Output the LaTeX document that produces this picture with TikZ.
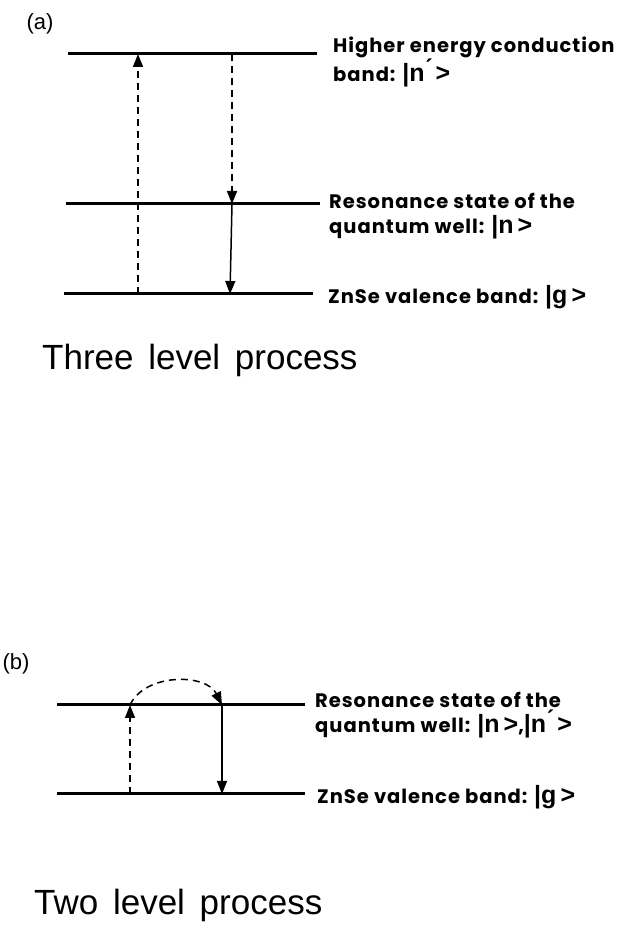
\documentclass[tikz,border=0pt]{standalone}
\usepackage{fontspec}
\usepackage{tikz}
\usepackage{tkz-euclide}
\usetikzlibrary{arrows.meta}
\setmainfont{Liberation Sans}
\newfontfamily\lblfont[LetterSpace=5]{Poppins}
\newfontfamily\ketfont{Liberation Sans}
\newcommand{\ket}[1]{{\ketfont\fontsize{25}{25}\selectfont|#1\,>}}
\newcommand{\capfont}{\fontsize{35}{35}\selectfont\spaceskip=0.42em plus 0.1em\relax}

\tikzset{
  level/.style={line width=3pt},
  jump/.style={line width=1.5pt,-{Triangle[length=13pt,width=10pt]}},
  hop/.style={jump,dash pattern=on 7pt off 5pt},
  lbl/.style={anchor=west,align=left,inner sep=0pt,font=\lblfont\bfseries\fontsize{19.5}{25}\selectfont},
  caption/.style={anchor=west,inner sep=0pt,font=\capfont},
  tag/.style={inner sep=0pt,font=\fontsize{22}{22}\selectfont}
}

\begin{document}
\begin{tikzpicture}[x=10pt,y=10pt]
  \useasboundingbox (0,0) rectangle (62.2,94.9);

  % (a) three level process
  \tkzDefPoints{6.8/89.5/Ha,31.7/89.5/He,6.6/74.5/Ra,32.0/74.5/Re,6.4/65.5/Ga,31.3/65.5/Ge}
  \tkzDefPoints{13.8/65.5/Up0,13.8/89.5/Up1,23.2/89.5/Dn0,23.2/74.5/Dn1,23.0/65.5/Dn2}

  \draw[level] (Ha) -- (He);
  \draw[level] (Ra) -- (Re);
  \draw[level] (Ga) -- (Ge);
  \draw[hop] (Up0) -- (Up1);
  \draw[hop] (Dn0) -- (Dn1);
  \draw[jump] (Dn1) -- (Dn2);

  \node[tag] (taga) at (4.0,92.5) {(a)};
  \node[lbl] (lblH) at (33.3,88.7) {Higher energy conduction\\band: \ket{n\'{}}};
  \node[lbl] (lblR) at (32.9,73.3) {Resonance state of the\\quantum well: \ket{n}};
  \node[lbl] (lblG) at (32.8,65.2) {ZnSe valence band: \ket{g}};
  \node[caption] (capa) at (4.2,58.9) {Three level process};

  % (b) two level process
  \tkzDefPoints{5.7/24.4/rA,30.5/24.4/rE,5.7/15.5/gA,30.5/15.5/gE}
  \tkzDefPoints{13.0/15.5/up0,13.0/24.4/up1,22.2/24.4/dn1,22.2/15.5/dn2}

  \draw[level] (rA) -- (rE);
  \draw[level] (gA) -- (gE);
  \draw[hop] (up0) -- (up1);
  \draw[hop] (up1) .. controls (14.5,27.6) and (20.6,27.6) .. (dn1);
  \draw[jump] (dn1) -- (dn2);

  \node[tag] (tagb) at (1.6,28.5) {(b)};
  \node[lbl] (lblRb) at (31.5,23.4) {Resonance state of the\\quantum well: \ket{n},\ket{n\'{}}};
  \node[lbl] (lblGb) at (31.7,15.2) {ZnSe valence band: \ket{g}};
  \node[caption] (capb) at (3.4,4.4) {Two level process};
\end{tikzpicture}
\end{document}
